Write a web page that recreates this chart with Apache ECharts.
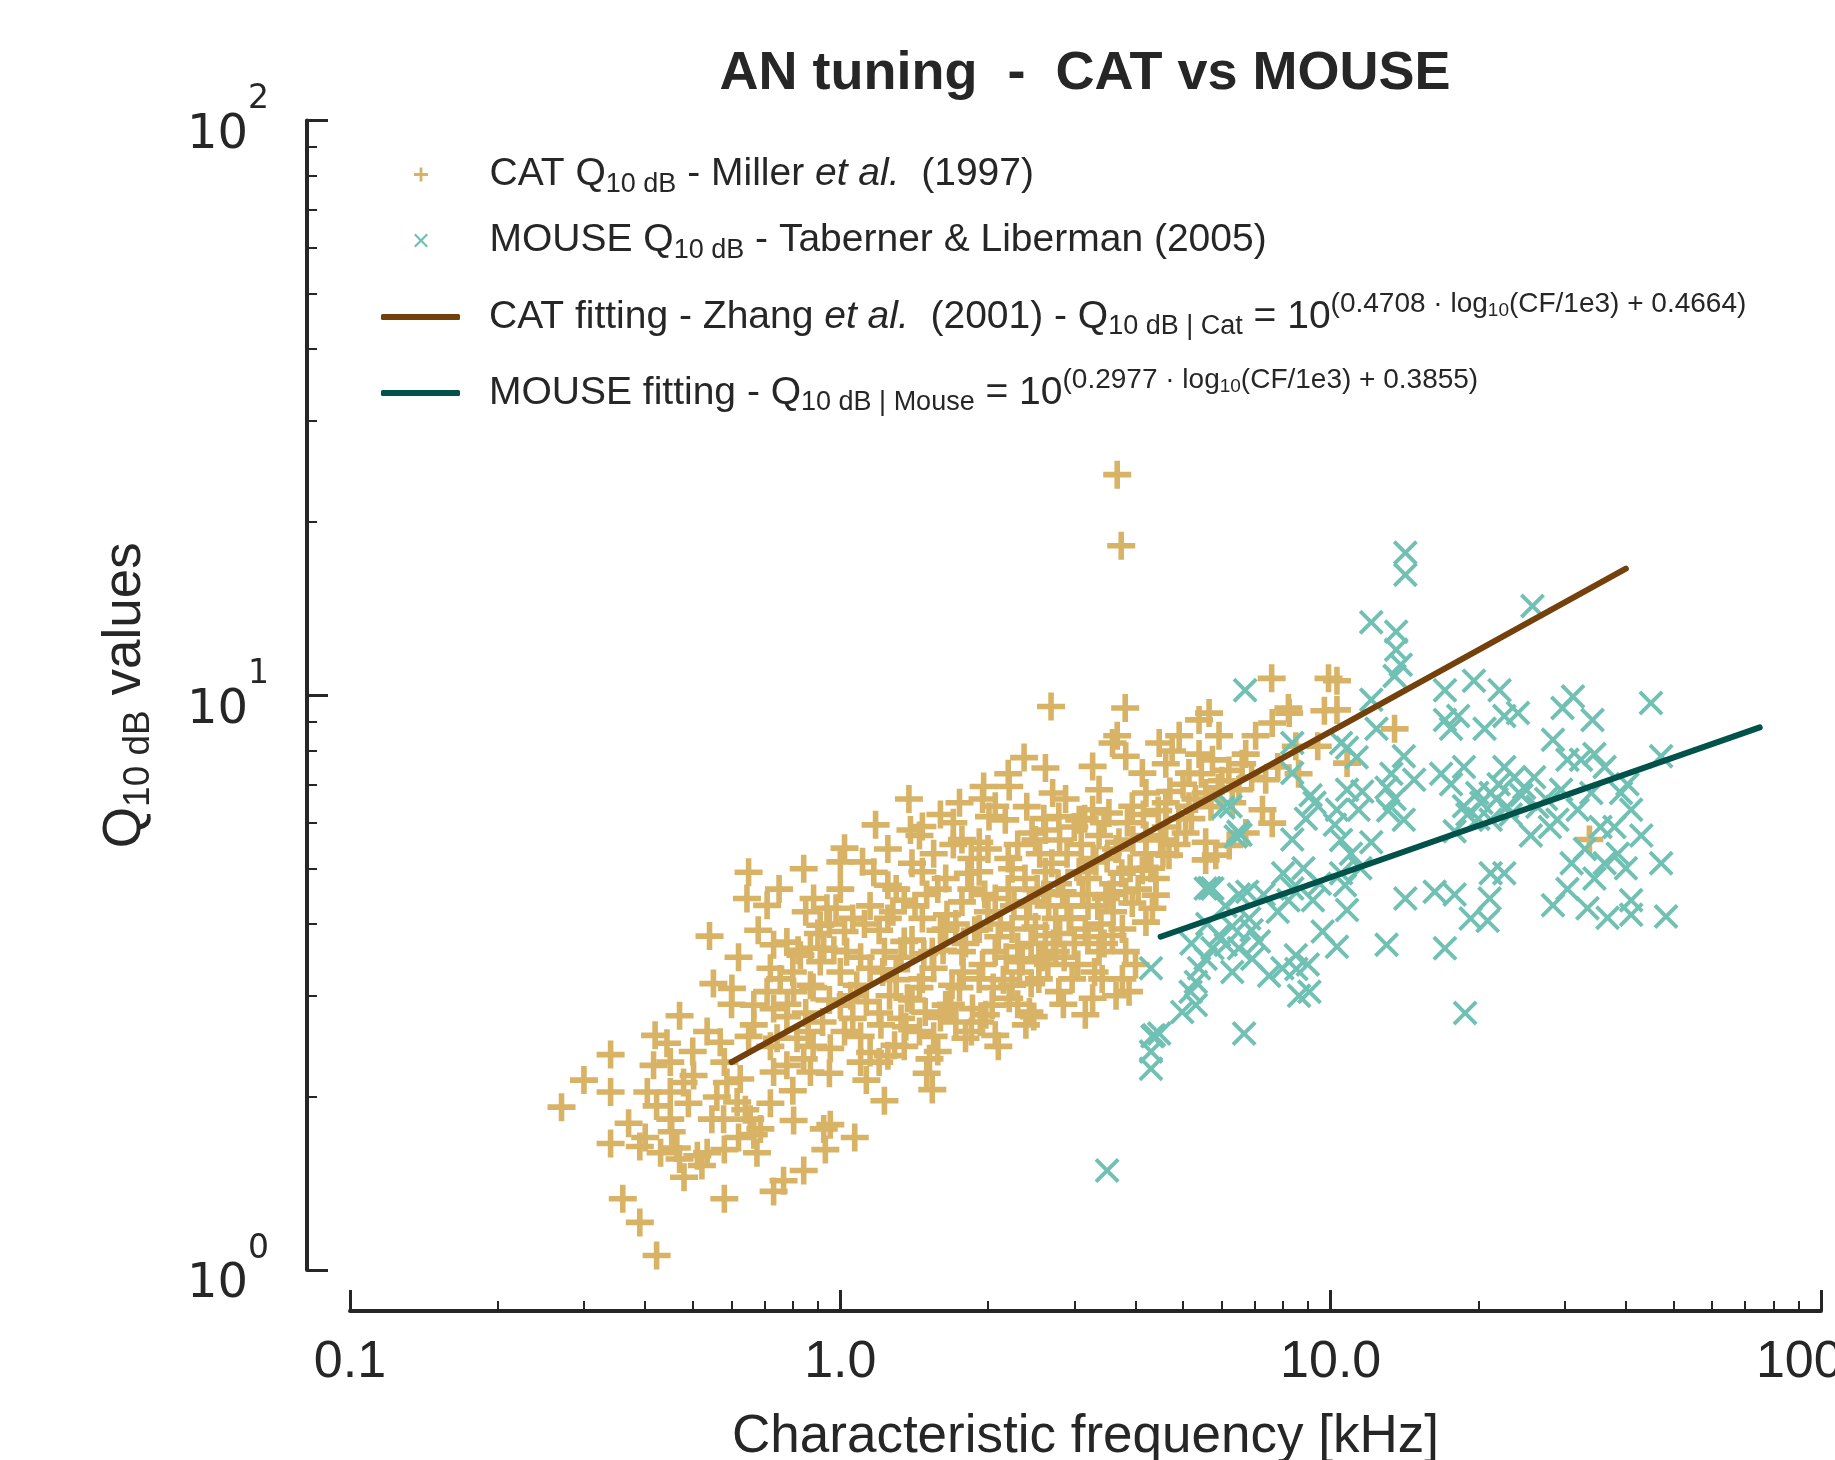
<!DOCTYPE html>
<html><head><meta charset="utf-8">
<script src="https://cdn.jsdelivr.net/npm/echarts/dist/echarts.min.js"></script>
<style>html,body{margin:0;padding:0;background:#fff}#c{width:1835px;height:1460px}</style>
</head><body><div id="c"></div>
<script>
// ---------------- DATA ----------------
const catData = [
[0.27,1.92],[0.30,2.14],[0.34,2.37],[0.34,2.04],[0.34,1.66],[0.39,1.64],[0.36,1.33],[0.39,1.21],[0.422,1.06],[0.47,2.77],
[0.419,2.56],[0.443,2.48],[0.416,2.27],[0.404,2.04],[0.422,1.93],[0.45,2.04],[0.45,1.83],[0.453,1.74],[0.464,1.63],[0.47,1.56],
[0.511,1.58],[0.535,1.60],[0.522,1.52],[0.502,2.18],[0.479,2.12],[0.535,2.60],[0.569,2.49],[0.551,3.15],[0.601,3.09],[0.541,3.81],
[0.578,1.83],[0.547,1.83],[0.587,2.12],[0.625,2.15],[0.616,1.96],[0.655,1.83],[0.666,1.72],[0.687,1.76],[0.676,1.60],[0.58,1.33],
[0.731,1.37],[0.766,1.43],[0.842,1.49],[0.803,1.82],[0.925,1.76],[0.954,1.79],[1.07,1.70],[0.932,1.62],[1.23,1.97],[1.13,2.14],
[0.65,4.92],[0.645,4.43],[0.709,4.31],[0.842,4.99],[1.0,5.13],[1.11,5.13],[0.882,4.43],[0.939,4.26],[0.778,3.72],[0.731,3.68],
[0.869,3.63],[0.925,3.63],[0.829,3.53],[0.91,3.44],[0.754,3.21],[0.869,3.13],[0.803,3.05],[0.709,3.05],[0.666,2.89],[0.731,2.85],
[0.666,2.67],[0.778,2.76],[0.743,2.53],[0.816,2.53],[0.842,2.33],[0.778,2.27],[0.731,2.21],[0.869,2.21],[0.954,2.43],[1.02,2.60],
[1.06,2.74],[1.0,2.89],[1.13,2.93],[1.21,2.67],[1.25,2.36],[1.29,2.46],[1.15,2.39],[1.08,3.13],[1.15,3.35],[1.23,3.58],
[1.30,3.33],[1.03,3.58],[1.25,4.09],[1.06,4.09],[1.25,4.67],[1.17,4.92],[0.98,4.26],[0.91,3.98],[1.02,3.88],[1.35,4.40],
[1.35,3.73],[1.37,2.97],[1.33,2.74],[1.18,5.95],[1.02,5.42],[1.39,5.83],
[1.54,2.06],[1.52,2.33],[1.58,2.40],[1.72,2.70],[1.80,2.53],[1.98,2.78],[2.07,2.56],[2.39,2.67],[2.43,2.81],[2.48,2.76],
[2.21,2.97],[2.24,3.13],[3.16,2.78],[2.97,3.21],[3.42,3.21],[3.88,3.05],[3.76,3.21],[3.82,3.58],[3.59,3.82],[4.20,4.03],
[4.33,4.26],[4.40,4.49],[4.13,4.96],[3.94,4.35],[3.76,3.92],[3.37,3.58],[3.16,3.92],[3.48,4.43],[3.82,4.55],[4.68,5.27],
[5.56,5.17],[5.83,5.27],[2.93,4.09],[2.75,3.58],[2.54,3.48],[2.04,2.89],[1.86,2.85],[1.64,2.89],[1.49,2.81],[1.45,2.60],
[1.69,3.13],[1.92,3.21],[1.47,3.21],[1.54,3.58],[1.77,3.58],[2.07,3.58],[2.35,3.44],[2.62,3.82],[2.24,3.92],[1.92,3.92],
[1.64,3.92],[1.47,4.09],[1.77,4.37],[2.07,4.43],[2.43,4.37],[2.84,4.55],[3.07,4.93],[2.62,4.93],[2.24,4.99],[1.92,4.93],
[1.64,4.80],[1.47,4.93],[3.32,5.13],[3.6,4.7],[2.75,4.09],[2.54,3.21],[2.79,3.05],[3.27,2.97],
[3.67,24.2],[3.74,18.2],[2.69,9.56],[3.81,9.50],[7.58,10.7],[2.37,7.79],[2.62,7.47],[1.96,6.94],[2.21,6.94],[2.07,6.41],
[2.71,6.76],[2.88,6.6],[3.27,7.52],[3.59,8.26],[3.67,8.5],[3.82,7.83],[4.13,7.32],[4.47,8.26],[4.75,8.0],[4.91,8.5],
[5.39,9.06],[5.65,9.31],[5.92,8.5],[5.74,7.72],[5.39,7.9],[6.71,7.9],[7.03,8.5],[7.60,8.95],[8.23,9.31],[8.49,8.15],
[7.37,7.13],[6.50,6.85],[7.26,6.32],[7.60,5.99],[6.71,5.76],[5.56,6.76],[5.14,6.41],[4.61,6.5],[4.20,6.76],[3.94,6.41],
[3.53,6.24],[3.27,6.32],[3.07,6.07],[2.79,6.15],[2.62,5.83],[2.46,5.76],[2.17,6.07],[2.01,6.15],[1.77,5.61],[1.92,5.55],
[1.47,5.91],[4.61,5.9],[5.06,5.76],[5.56,5.55],[6.21,5.48],[3.37,5.70],[3.70,5.55],[4.20,5.70],[3.37,6.85],[5.14,7.32],
[4.61,7.6],[10.3,10.6],[10.3,9.43],[9.71,9.4],[13.5,8.74],[9.41,8.15],[10.8,7.62],[33.7,5.61],[9.9,10.7],[8.2,9.5],
[1.25,5.4],[1.4,5.1],[1.55,5.3],[1.7,5.5],[1.85,5.2],[2.0,5.4],[2.3,5.5],[2.55,5.3],[2.8,5.6],[3.1,5.5],
[1.3,4.6],[1.5,4.5],[1.65,4.15],[1.85,4.6],[2.0,4.2],[2.2,4.6],[2.4,4.1],[2.6,4.5],[2.9,4.3],[3.2,4.3],
[3.4,4.0],[1.2,3.9],[1.4,3.75],[1.6,3.9],[1.8,3.7],[2.1,3.8],[2.3,3.65],[2.5,3.95],[2.8,3.85],[3.0,3.7],
[3.3,3.3],[1.1,3.5],[1.3,3.2],[1.55,3.35],[1.75,3.1],[1.95,3.4],[2.15,3.2],[2.45,3.15],[2.65,3.4],[2.85,2.9],
[1.2,2.8],[1.4,2.95],[1.6,2.75],[1.85,2.6],[2.1,2.45],[2.3,2.9],[1.0,3.3],[0.95,2.95],[1.1,2.55],[1.35,2.45],
[1.5,2.2],[1.2,2.3],[0.85,2.8],[0.8,3.3],[0.9,3.85],[0.85,4.2],[1.0,4.6],[1.15,4.3],[1.45,5.7],[1.7,6.0],
[2.4,6.4],[2.6,6.1],[3.0,5.9],[3.5,5.2],[3.9,5.0],[4.2,5.3],[4.5,5.6],[4.9,6.1],[5.3,6.6],[5.9,6.9],
[6.2,7.4],[6.9,7.2],[7.8,7.5],[8.6,7.3],[4.4,4.8],[3.6,4.2],[3.2,4.8],[2.7,5.1],[1.95,6.6],[2.2,7.3],
[1.75,6.5],[1.6,6.2],[1.38,6.6],[0.75,4.6],[0.68,3.9],[0.62,3.5],[0.72,3.35],[0.6,2.9],[0.65,2.55],[0.72,2.45],
[0.88,2.45],[0.95,2.2],[0.58,2.3],[0.5,2.4],[0.45,2.3],[0.56,2.0],[0.64,1.9],[0.72,1.95],[0.8,2.05],[0.62,1.7],
[0.58,1.62],[0.49,1.95],[0.37,1.8],[0.43,1.6],[0.48,1.45],[0.4,1.7],
[0.82,3.6],[0.88,3.1],[0.92,2.7],[0.97,3.6],[1.05,3.0],[1.1,2.3],[1.12,4.0],[0.86,2.6],[0.78,2.9],[0.95,4.0],
[1.22,3.3],[1.28,4.2],[1.33,3.5],[1.42,4.3],[1.45,3.1],[1.48,3.55],[1.58,4.6],[1.62,3.6],[1.68,2.9],[1.72,4.0],
[1.78,3.3],[1.82,4.9],[1.88,3.9],[1.93,2.7],[1.97,4.5],[1.55,2.55],[1.36,2.65],[1.26,3.0],
[2.05,3.1],[2.12,4.0],[2.18,3.5],[2.26,4.3],[2.32,3.3],[2.38,4.8],[2.45,3.7],[2.52,4.6],[2.58,3.5],[2.66,4.3],
[2.72,3.7],[2.78,4.7],[2.86,3.5],[2.95,4.1],[3.05,3.4],[3.12,4.5],[3.2,3.8],[3.28,5.2],[3.35,4.3],[3.45,3.7],
[2.2,5.2],[2.5,5.6],[2.9,5.3],[3.15,6.1],[3.45,6.0],
[3.55,4.5],[3.65,5.4],[3.75,4.9],[3.85,6.0],[3.95,5.6],[4.05,4.6],[4.15,6.2],[4.3,5.0],[4.45,6.3],[4.55,5.3],
[4.7,6.8],[4.85,5.5],[5.0,7.0],[5.2,6.1],[5.45,7.3],[5.7,6.4],[6.0,7.1],[6.3,6.5],[6.6,7.6],[4.0,3.4],[3.65,3.0]
];
const mouseData = [
[6.69,10.2],[8.35,8.26],[8.35,7.32],[6.25,6.41],[6.55,5.72],[8.35,5.61],
[14.2,17.7],[14.2,16.2],[25.8,14.3],[12.1,13.4],[13.6,12.9],[13.6,12.0],[13.9,11.3],[13.5,10.8],[12.1,9.82],[12.4,8.74],
[10.5,8.26],[17.1,10.2],[19.6,10.6],[22.1,10.2],[24.1,9.31],[22.6,9.2],[17.1,9.06],[18.2,9.2],[17.6,8.74],[20.6,8.74],
[31.2,9.95],[29.7,9.5],[34.2,9.06],[45.0,9.69],[28.4,8.37],[32.4,7.72],[34.5,7.9],[36.2,7.5],[30.4,7.72],[47.2,7.83],
[14.1,7.83],[14.8,7.13],[10.8,6.85],[10.3,6.32],[11.4,6.32],[9.27,6.5],[13.5,6.6],[13.1,6.3],[14.1,6.07],[12.1,5.55],
[10.5,5.6],[17.6,7.0],[18.7,7.5],[19.9,6.76],[18.7,6.41],[21.2,6.76],[22.6,7.5],[23.7,7.2],[24.8,6.9],[23.3,6.2],
[21.2,6.07],[19.0,6.2],[26.4,6.4],[29.0,6.07],[31.9,6.32],[29.5,6.85],[34.0,6.76],[39.1,6.76],[40.3,7.0],[41.0,6.32],
[37.9,5.9],[43.0,5.7],[25.6,5.7],[17.9,5.8],[16.8,7.3],
[10.7,4.67],[10.8,4.23],[9.63,3.88],[10.3,3.65],[13.0,3.68],[14.2,4.43],[16.3,4.55],[17.9,4.5],[17.1,3.63],[19.3,4.09],
[20.9,4.05],[21.1,4.43],[21.2,4.9],[22.6,4.9],[18.8,2.80],[28.4,4.31],[30.4,4.6],[33.4,4.26],[36.7,4.1],[41.0,4.4],
[41.0,4.15],[48.3,4.12],[36.2,5.1],[47.2,5.1],[34.5,4.8],[9.05,3.05],[8.98,3.4],
[3.50,1.49],[6.66,2.58],[4.30,3.35],[4.30,2.24],[4.30,2.4],[4.33,2.55],[4.47,2.58],[4.98,2.81],[5.31,2.89],[5.18,3.05],
[5.31,3.17],[5.39,3.35],[5.56,3.48],[5.74,3.63],[5.92,3.82],[6.30,3.96],[6.82,4.09],[6.50,3.63],[6.92,3.48],[7.14,3.73],
[6.11,3.68],[7.49,3.25],[7.97,3.35],[8.49,3.53],[8.62,3.0],[5.74,4.61],[5.56,4.61],[8.35,4.61],[8.0,4.9],
[5.66,4.62],[6.48,5.79],[4.36,2.56],[6.04,6.38],[6.40,5.68],[6.76,4.55],[8.51,3.34],
[10.8,8.1],[11.3,7.8],[11.6,6.8],[13.0,6.9],[13.3,7.3],[10.2,5.95],[11.0,5.3],[11.5,5.0],[10.5,4.9],
[20.3,6.5],[21.8,6.6],[22.9,6.4],[20.0,6.1],[24.5,6.7],[22.0,7.0],[26.0,7.2],[27.5,6.6],[28.0,5.9],
[33.0,5.4],[38.5,5.3],[35.5,5.9],[40.0,5.0],[31.0,5.1],[7.3,4.5],[7.8,4.2],[8.2,4.4],[8.8,5.0],[9.5,4.7],
[9.2,4.4],[9.1,6.7],[8.9,6.1],[5.6,4.0],[6.1,4.3],[6.5,4.5],[5.2,3.7],[6.3,3.3],[6.9,3.9]
];
const catFit = [[0.6, 2.30], [40, 16.6]];
const mouseFit = [[4.5, 3.80], [75, 8.79]];
const xTickValues = [0.1, 1, 10, 100];
const xTickLabels = ['0.1', '1.0', '10.0', '100.0'];
const yTickValues = [1, 10, 100];
const yTickExps = ['0', '1', '2'];
const xMinorTicks = [0.2,0.3,0.4,0.5,0.6,0.7,0.8,0.9,2,3,4,5,6,7,8,9,20,30,40,50,60,70,80,90];
const yMinorTicks = [2,3,4,5,6,7,8,9,20,30,40,50,60,70,80,90];

const CAT_NAME = 'CAT Q10 dB - Miller et al. (1997)';
const MOUSE_NAME = 'MOUSE Q10 dB - Taberner & Liberman (2005)';
const CATFIT_NAME = 'CAT fitting - Zhang et al. (2001)';
const MOUSEFIT_NAME = 'MOUSE fitting';

// ---------------- STYLE ----------------
const INK = '#262626';
const SANS = 'Liberation Sans, Arial, sans-serif';
const CAT_C = '#d8b366', MOUSE_C = '#70c1b4', CATLINE_C = '#74410d', MOUSELINE_C = '#01524a';
const plusPath = 'path://M40,0H60V40H100V60H60V100H40V60H0V40H40Z';
const xPath = 'path://M0,11L11,0L50,39L89,0L100,11L61,50L100,89L89,100L50,61L11,100L0,89L39,50Z';

function idxOf(arr, v) {
  for (let i = 0; i < arr.length; i++) if (Math.abs(Math.log10(v) - Math.log10(arr[i])) < 1e-6) return i;
  return -1;
}
const legRich = {
  sub: {fontSize: 27, fontFamily: SANS, color: INK, padding: [20, 0, 0, 0]},
  it: {fontSize: 39, fontFamily: SANS, color: INK, fontStyle: 'italic'},
  sup: {fontSize: 28, fontFamily: SANS, color: INK, padding: [0, 0, 26, 0]},
  ss: {fontSize: 19, fontFamily: SANS, color: INK, padding: [0, 0, 12, 0]}
};
const legendTexts = {};
legendTexts[CAT_NAME] = 'CAT Q{sub|10 dB} - Miller {it|et al.}  (1997)';
legendTexts[MOUSE_NAME] = 'MOUSE Q{sub|10 dB} - Taberner & Liberman (2005)';
legendTexts[CATFIT_NAME] = 'CAT fitting - Zhang {it|et al.}  (2001) - Q{sub|10 dB | Cat} = 10{sup|(0.4708 · log}{ss|10}{sup|(CF/1e3) + 0.4664)}';
legendTexts[MOUSEFIT_NAME] = 'MOUSE fitting - Q{sub|10 dB | Mouse} = 10{sup|(0.2977 · log}{ss|10}{sup|(CF/1e3) + 0.3855)}';

function mkLegend(name, left, top, icon, h) {
  return {
    left: left, top: top, orient: 'horizontal', selectedMode: false,
    itemWidth: 79, itemHeight: h, itemGap: 0,
    data: [{name: name, icon: icon}],
    formatter: n => legendTexts[n],
    textStyle: {fontSize: 39, fontFamily: SANS, color: INK, padding: [0, 0, 0, 24], rich: legRich}
  };
}

const chart = echarts.init(document.getElementById('c'), null, {renderer: 'canvas'});
chart.setOption({
  backgroundColor: '#ffffff',
  animation: false,
  grid: {left: 350, right: 14, top: 120.5, bottom: 190, containLabel: false, outerBoundsMode: 'none'},
  graphic: [{
    type: 'text', x: 1085, y: 74,
    style: {text: 'AN tuning  -  CAT vs MOUSE', fontSize: 54, fontWeight: 'bold', fontFamily: SANS,
            fill: INK, align: 'center', verticalAlign: 'middle'}
  }],
  legend: [
    mkLegend(CAT_NAME, 409, 150, plusPath, 14),
    mkLegend(MOUSE_NAME, 409, 216, xPath, 14),
    mkLegend(CATFIT_NAME, 376, 285, 'roundRect', 6),
    mkLegend(MOUSEFIT_NAME, 376, 361, 'roundRect', 6)
  ],
  xAxis: [{
    type: 'log', logBase: 10, min: 0.1, max: 100, position: 'bottom', offset: 41,
    axisLine: {show: true, onZero: false, lineStyle: {color: INK, width: 4}},
    axisTick: {show: true, inside: true, length: 21, lineStyle: {color: INK, width: 3}},
    splitLine: {show: false}, minorTick: {show: false},
    axisLabel: {margin: 26, fontSize: 52, fontFamily: SANS, color: INK, hideOverlap: false,
      formatter: v => { const i = idxOf(xTickValues, v); return i >= 0 ? xTickLabels[i] : ''; }},
    name: 'Characteristic frequency [kHz]', nameLocation: 'middle', nameGap: 100,
    nameTextStyle: {fontSize: 53, fontFamily: SANS, color: INK}
  }, {
    type: 'value', min: -1, max: 2, position: 'bottom', offset: 41,
    axisLine: {show: false, onZero: false}, axisLabel: {show: false}, splitLine: {show: false},
    axisTick: {show: true, inside: true, length: 10, lineStyle: {color: INK, width: 2},
      customValues: xMinorTicks.map(v => Math.log10(v))}
  }],
  yAxis: [{
    type: 'log', logBase: 10, min: 1, max: 100, position: 'left', offset: 43,
    axisLine: {show: true, onZero: false, lineStyle: {color: INK, width: 4}},
    axisTick: {show: true, inside: true, length: 21, lineStyle: {color: INK, width: 3}},
    splitLine: {show: false}, minorTick: {show: false},
    axisLabel: {margin: 38,
      formatter: v => { const i = idxOf(yTickValues, v); return i >= 0 ? '{b|10}{s|' + yTickExps[i] + '}' : ''; },
      rich: {
        b: {fontFamily: 'DejaVu Sans', fontSize: 48, color: INK, padding: [30, 0, 0, 0]},
        s: {fontFamily: 'DejaVu Sans', fontSize: 33, color: INK, padding: [0, 0, 42, 0]}
      }},
    name: 'Q{sub|10 dB} values', nameLocation: 'middle', nameRotate: 90, nameGap: 150,
    nameTextStyle: {fontSize: 53, fontFamily: SANS, color: INK,
      rich: {sub: {fontSize: 37, fontFamily: SANS, color: INK, padding: [26, 0, 0, 0]}}}
  }, {
    type: 'value', min: 0, max: 2, position: 'left', offset: 43,
    axisLine: {show: false, onZero: false}, axisLabel: {show: false}, splitLine: {show: false},
    axisTick: {show: true, inside: true, length: 10, lineStyle: {color: INK, width: 2},
      customValues: yMinorTicks.map(v => Math.log10(v))}
  }],
  series: [{
    name: CAT_NAME, type: 'scatter', data: catData, symbol: plusPath, symbolSize: 28,
    itemStyle: {color: CAT_C, opacity: 1}, z: 2
  }, {
    name: MOUSE_NAME, type: 'scatter', data: mouseData, symbol: xPath, symbolSize: 25,
    itemStyle: {color: MOUSE_C, opacity: 1}, z: 3
  }, {
    name: CATFIT_NAME, type: 'line', data: catFit, symbol: 'none', z: 4,
    itemStyle: {color: CATLINE_C}, lineStyle: {color: CATLINE_C, width: 6, cap: 'round'}
  }, {
    name: MOUSEFIT_NAME, type: 'line', data: mouseFit, symbol: 'none', z: 5,
    itemStyle: {color: MOUSELINE_C}, lineStyle: {color: MOUSELINE_C, width: 6, cap: 'round'}
  }]
});
</script>
</body></html>
